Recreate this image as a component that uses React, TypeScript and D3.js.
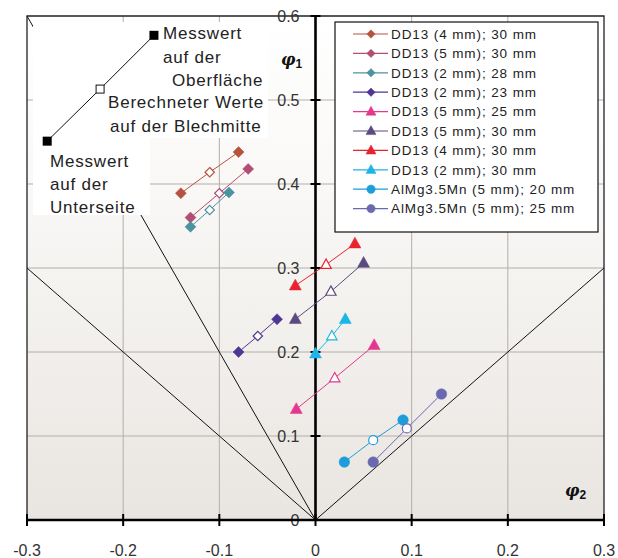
import React from "react";
import * as d3 from "d3";

// ---- data ----
const seriesNames = [
  "DD13 (4 mm); 30 mm",
  "DD13 (5 mm); 30 mm",
  "DD13 (2 mm); 28 mm",
  "DD13 (2 mm); 23 mm",
  "DD13 (5 mm); 25 mm",
  "DD13 (5 mm); 30 mm",
  "DD13 (4 mm); 30 mm",
  "DD13 (2 mm); 30 mm",
  "AlMg3.5Mn (5 mm); 20 mm",
  "AlMg3.5Mn (5 mm); 25 mm",
];
const seriesColors = [
  "#b6533f", "#b24d73", "#4a93a0", "#4f3594", "#e4378d",
  "#5b4a80", "#e8232d", "#1cb5e6", "#1d9dd9", "#6a69b0",
];
const seriesMarkers = [
  "diamond", "diamond", "diamond", "diamond", "triangle",
  "triangle", "triangle", "triangle", "circle", "circle",
];
// each series: [bottom measured, middle calculated, top measured] as [phi2, phi1]
const phi2Values = [
  [-0.14, -0.11, -0.08],
  [-0.13, -0.10, -0.07],
  [-0.13, -0.11, -0.09],
  [-0.08, -0.06, -0.04],
  [-0.02, 0.02, 0.061],
  [-0.021, 0.016, 0.05],
  [-0.021, 0.011, 0.041],
  [0.0, 0.017, 0.031],
  [0.03, 0.06, 0.091],
  [0.06, 0.095, 0.131],
];
const phi1Values = [
  [0.389, 0.414, 0.438],
  [0.36, 0.389, 0.418],
  [0.349, 0.369, 0.39],
  [0.2, 0.219, 0.239],
  [0.132, 0.169, 0.208],
  [0.239, 0.272, 0.306],
  [0.279, 0.304, 0.329],
  [0.198, 0.219, 0.239],
  [0.069, 0.095, 0.119],
  [0.069, 0.109, 0.15],
];
const xTicks = [-0.3, -0.2, -0.1, 0, 0.1, 0.2, 0.3];
const yTicks = [0, 0.1, 0.2, 0.3, 0.4, 0.5, 0.6];
const xGrid = [-0.2, -0.1, 0.1, 0.2];
const yGrid = [0.1, 0.2, 0.3, 0.4, 0.5];
// limit lines from origin: [phi2, phi1] endpoints
const limitLines = [
  [-0.3, 0.6],
  [-0.3, 0.3],
  [0.3, 0.3],
];
// demo annotation (phi2, phi1)
const demoPhi2 = [-0.279, -0.224, -0.168];
const demoPhi1 = [0.451, 0.513, 0.577];

const W = 618;
const H = 558;
const font = "'Liberation Sans', Arial, sans-serif";

function markerPath(kind: string, cx: number, cy: number, s: number): string {
  if (kind === "diamond") {
    return `M${cx},${cy - s}L${cx + s},${cy}L${cx},${cy + s}L${cx - s},${cy}Z`;
  }
  const h = s * 1.8;
  return `M${cx},${cy - h * 0.6}L${cx + s},${cy + h * 0.4}L${cx - s},${cy + h * 0.4}Z`;
}

function Marker({ kind, cx, cy, s, color, hollow }: any) {
  const fill = hollow ? "#fff" : color;
  const stroke = color;
  if (kind === "circle") {
    return <circle cx={cx} cy={cy} r={s} fill={fill} stroke={stroke} strokeWidth={hollow ? 1.2 : 0.5} />;
  }
  return <path d={markerPath(kind, cx, cy, s)} fill={fill} stroke={stroke} strokeWidth={hollow ? 1.2 : 0.5} />;
}

export default function App() {
  const x = d3.scaleLinear().domain([-0.3, 0.3]).range([27, 604]);
  const y = d3.scaleLinear().domain([0, 0.6]).range([520, 16]);
  const line = d3.line<[number, number]>().x((d) => x(d[0])).y((d) => y(d[1]));

  const markerSize = (k: string) => (k === "diamond" ? 5.5 : k === "triangle" ? 6 : 5.3);

  return (
    <svg width={W} height={H} style={{ position: "absolute", left: 0, top: 0, background: "#fff" }}>
      <defs>
        <linearGradient id="bg" x1="0" y1="0" x2="0" y2="1">
          <stop offset="0" stopColor="#ffffff" />
          <stop offset="0.35" stopColor="#f9f8f6" />
          <stop offset="1" stopColor="#e9e5e1" />
        </linearGradient>
      </defs>
      <rect x={x(-0.3)} y={y(0.6)} width={x(0.3) - x(-0.3)} height={y(0) - y(0.6)} fill="url(#bg)" />
      {/* grid */}
      {xGrid.map((v) => (
        <line key={"gx" + v} x1={x(v)} x2={x(v)} y1={y(0)} y2={y(0.6)} stroke="#b4aea9" strokeWidth={1} />
      ))}
      {yGrid.map((v) => (
        <line key={"gy" + v} x1={x(-0.3)} x2={x(0.3)} y1={y(v)} y2={y(v)} stroke="#b4aea9" strokeWidth={1} />
      ))}
      {/* limit lines */}
      {limitLines.map((p, i) => (
        <path key={"ll" + i} d={line([[0, 0], [p[0], p[1]]]) as string} stroke="#111" strokeWidth={1} fill="none" />
      ))}
      {/* annotation cover boxes */}
      <rect x={33} y={22} width={235} height={116} fill="#fff" />
      <rect x={33} y={137} width={117} height={78} fill="#fff" />
      {/* frame */}
      <path
        d={`M${x(-0.3)},${y(0)}L${x(-0.3)},${y(0.6)}L${x(0.3)},${y(0.6)}L${x(0.3)},${y(0)}`}
        stroke="#222"
        strokeWidth={1.3}
        fill="none"
      />
      {/* y tick labels */}
      {yTicks.map((v) => (
        <text key={"yl" + v} x={x(0) - 16} y={y(v) + 5.5} textAnchor="end" fontFamily={font} fontSize={16} fill="#333">
          {v === 0 ? "0" : v.toFixed(1)}
        </text>
      ))}
      {/* axes */}
      <line x1={x(0)} x2={x(0)} y1={y(0)} y2={y(0.6)} stroke="#000" strokeWidth={2.6} />
      <line x1={x(-0.3)} x2={x(0.3)} y1={y(0)} y2={y(0)} stroke="#000" strokeWidth={2.6} />
      {yTicks.map((v) => (
        <line key={"yt" + v} x1={x(0) - 5} x2={x(0) + 5} y1={y(v)} y2={y(v)} stroke="#000" strokeWidth={2} />
      ))}
      {xTicks.map((v) => (
        <line key={"xt" + v} x1={x(v)} x2={x(v)} y1={y(0) - 6} y2={y(0) + 6} stroke="#000" strokeWidth={2} />
      ))}
      {xTicks.map((v) => (
        <text key={"xl" + v} x={x(v)} y={y(0) + 36} textAnchor="middle" fontFamily={font} fontSize={16} fill="#333">
          {v === 0 ? "0" : v.toFixed(1)}
        </text>
      ))}
      {/* axis titles */}
      <text x={281} y={65} fontFamily="'DejaVu Serif', serif" fontStyle="italic" fontWeight="bold" fontSize={16} fill="#111">
        φ<tspan fontSize={12} dy={3} fontStyle="normal" fontFamily={font}>1</tspan>
      </text>
      <text x={565} y={496} fontFamily="'DejaVu Serif', serif" fontStyle="italic" fontWeight="bold" fontSize={16} fill="#111">
        φ<tspan fontSize={12} dy={3} fontStyle="normal" fontFamily={font}>2</tspan>
      </text>
      {/* series */}
      {seriesNames.map((name, i) => {
        const pts: [number, number][] = phi2Values[i].map((v, j) => [v, phi1Values[i][j]]);
        return (
          <g key={"s" + i}>
            <path d={line(pts) as string} stroke={seriesColors[i]} strokeWidth={1} fill="none" />
            {pts.map((p, j) => (
              <Marker
                key={j}
                kind={seriesMarkers[i]}
                cx={x(p[0])}
                cy={y(p[1])}
                s={j === 1 ? markerSize(seriesMarkers[i]) - 0.8 : markerSize(seriesMarkers[i])}
                color={seriesColors[i]}
                hollow={j === 1}
              />
            ))}
          </g>
        );
      })}
      {/* demo annotation */}
      <path
        d={line(demoPhi2.map((v, j) => [v, demoPhi1[j]]) as [number, number][]) as string}
        stroke="#111"
        strokeWidth={1}
        fill="none"
      />
      {demoPhi2.map((v, j) =>
        j === 1 ? (
          <rect key={"dm" + j} x={x(v) - 4} y={y(demoPhi1[j]) - 4} width={8} height={8} fill="#fff" stroke="#111" strokeWidth={1} />
        ) : (
          <rect key={"dm" + j} x={x(v) - 4.5} y={y(demoPhi1[j]) - 4.5} width={9} height={9} fill="#000" />
        )
      )}
      <g fontFamily={font} fontSize={17} fill="#222" letterSpacing={0.8}>
        <text x={163} y={39}>Messwert</text>
        <text x={163} y={63}>auf der</text>
        <text x={172} y={86}>Oberfläche</text>
        <text x={108} y={108}>Berechneter Werte</text>
        <text x={110} y={132}>auf der Blechmitte</text>
        <text x={50} y={167}>Messwert</text>
        <text x={50} y={190}>auf der</text>
        <text x={50} y={213}>Unterseite</text>
      </g>
      {/* legend */}
      <rect x={335} y={22} width={263} height={210} fill="#fff" stroke="#111" strokeWidth={1.2} />
      {seriesNames.map((name, i) => {
        const ly = 34 + i * 19.4;
        return (
          <g key={"lg" + i}>
            <line x1={353} x2={388} y1={ly} y2={ly} stroke={seriesColors[i]} strokeWidth={1.2} />
            <Marker
              kind={seriesMarkers[i]}
              cx={371}
              cy={ly}
              s={seriesMarkers[i] === "triangle" ? 5 : 4.2}
              color={seriesColors[i]}
              hollow={false}
            />
            <text x={391} y={ly + 4.8} fontFamily={font} fontSize={13.5} fill="#222" letterSpacing={0.9}>
              {name}
            </text>
          </g>
        );
      })}
    </svg>
  );
}
